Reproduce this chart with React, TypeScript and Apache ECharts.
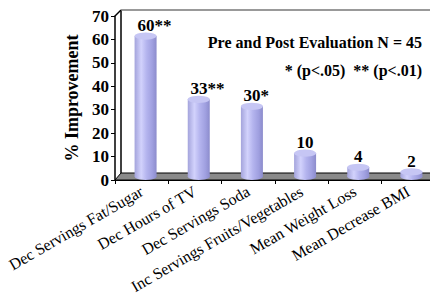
import React, { useEffect, useRef } from "react";
import * as echarts from "echarts";

const categories = [
  "Dec Servings Fat/Sugar",
  "Dec Hours of TV",
  "Dec Servings Soda",
  "Inc Servings Fruits/Vegetables",
  "Mean Weight Loss",
  "Mean Decrease BMI",
];
const improvement = [60, 33, 30, 10, 4, 2];
const significance = ["**", "**", "*", "", "", ""];
const yMin = 0;
const yMax = 70;
const yInterval = 10;
const titleText = "Pre and Post Evaluation N = 45";
const noteText = "* (p<.05)  ** (p<.01)";
const yName = "% Improvement";

const FONT = "Liberation Serif";

export default function App() {
  const ref = useRef<HTMLDivElement>(null);
  useEffect(() => {
    if (!ref.current) return;
    const chart = echarts.init(ref.current, null, { renderer: "svg" });
    const barGrad = new echarts.graphic.LinearGradient(0, 0, 1, 0, [
      { offset: 0, color: "#a4a4dc" },
      { offset: 0.3, color: "#d2d2fc" },
      { offset: 0.55, color: "#b4b4ee" },
      { offset: 0.8, color: "#a0a0e0" },
      { offset: 1, color: "#8c8ccc" },
    ]);
    const yAxisBase = {
      type: "value",
      min: yMin,
      max: yMax,
      interval: yInterval,
      splitLine: { show: false },
    };
    chart.setOption({
      animation: false,
      textStyle: { fontFamily: FONT },
      grid: [
        { left: 115, width: 320, top: 16, height: 164 },
        { left: 119, width: 320, top: 12.5, height: 164 },
      ],
      xAxis: [
        {
          type: "category",
          gridIndex: 0,
          data: categories,
          axisLine: { show: true, lineStyle: { color: "#000", width: 1 } },
          axisTick: { show: true, length: 4, alignWithLabel: false, lineStyle: { color: "#000" } },
          axisLabel: {
            interval: 0,
            rotate: 30,
            margin: 10,
            fontFamily: FONT,
            fontSize: 16,
            color: "#000",
          },
          z: 5,
        },
        {
          type: "category",
          gridIndex: 1,
          data: categories,
          show: false,
        },
      ],
      yAxis: [
        {
          ...yAxisBase,
          gridIndex: 0,
          name: yName,
          nameLocation: "middle",
          nameRotate: 90,
          nameGap: 33,
          nameTextStyle: { fontFamily: FONT, fontSize: 18, fontWeight: "bold", color: "#000" },
          axisLine: { show: true, lineStyle: { color: "#000", width: 1.5 } },
          axisTick: { show: true, length: 4, lineStyle: { color: "#000" } },
          axisLabel: { margin: 6, fontFamily: FONT, fontSize: 17, fontWeight: "bold", color: "#000" },
          z: 5,
        },
        { ...yAxisBase, gridIndex: 1, show: false },
      ],
      graphic: [
        {
          type: "polygon",
          z: 1,
          shape: { points: [[115, 180], [121, 173], [438, 173], [438, 180]] },
          style: { fill: "#8a8a8a", stroke: "#000", lineWidth: 1 },
        },
        { type: "line", z: 1, shape: { x1: 121, y1: 10, x2: 121, y2: 173 }, style: { stroke: "#000", lineWidth: 1.5 } },
        { type: "line", z: 1, shape: { x1: 115, y1: 16, x2: 121, y2: 10 }, style: { stroke: "#000", lineWidth: 1.5 } },
        { type: "line", z: 1, shape: { x1: 121, y1: 10, x2: 438, y2: 10 }, style: { stroke: "#777", lineWidth: 1.5 } },
        {
          type: "text",
          x: 422,
          y: 42,
          style: {
            text: titleText,
            align: "right",
            verticalAlign: "middle",
            font: "bold 16px 'Liberation Serif'",
            fill: "#000",
          },
        },
        {
          type: "text",
          x: 422,
          y: 70,
          style: {
            text: noteText,
            align: "right",
            verticalAlign: "middle",
            font: "bold 16px 'Liberation Serif'",
            fill: "#000",
          },
        },
      ],
      series: [
        {
          type: "bar",
          xAxisIndex: 1,
          yAxisIndex: 1,
          barWidth: 22,
          z: 3,
          itemStyle: { color: barGrad },
          data: improvement.map((v, i) => ({
            value: v,
            label: { offset: [significance[i].length * 4.4, 0] },
          })),
          label: {
            show: true,
            position: "top",
            distance: 2,
            fontFamily: FONT,
            fontSize: 17,
            fontWeight: "bold",
            color: "#000",
            formatter: (p: any) => `${p.value}${significance[p.dataIndex]}`,
          },
        },
        {
          type: "pictorialBar",
          xAxisIndex: 1,
          yAxisIndex: 1,
          symbol: "circle",
          symbolSize: [22, 7],
          symbolPosition: "start",
          symbolOffset: [0, "50%"],
          barGap: "-100%",
          barWidth: 22,
          z: 2,
          itemStyle: { color: barGrad },
          data: improvement,
        },
        {
          type: "pictorialBar",
          xAxisIndex: 1,
          yAxisIndex: 1,
          symbol: "circle",
          symbolSize: [22, 7],
          symbolPosition: "end",
          symbolOffset: [0, "-50%"],
          barGap: "-100%",
          barWidth: 22,
          z: 4,
          itemStyle: { color: "#c6c6f4", borderColor: "#9a9ad4", borderWidth: 0.5 },
          data: improvement,
        },
      ],
    });
    return () => chart.dispose();
  }, []);
  return <div ref={ref} style={{ width: 438, height: 301, margin: -8 }} />;
}
